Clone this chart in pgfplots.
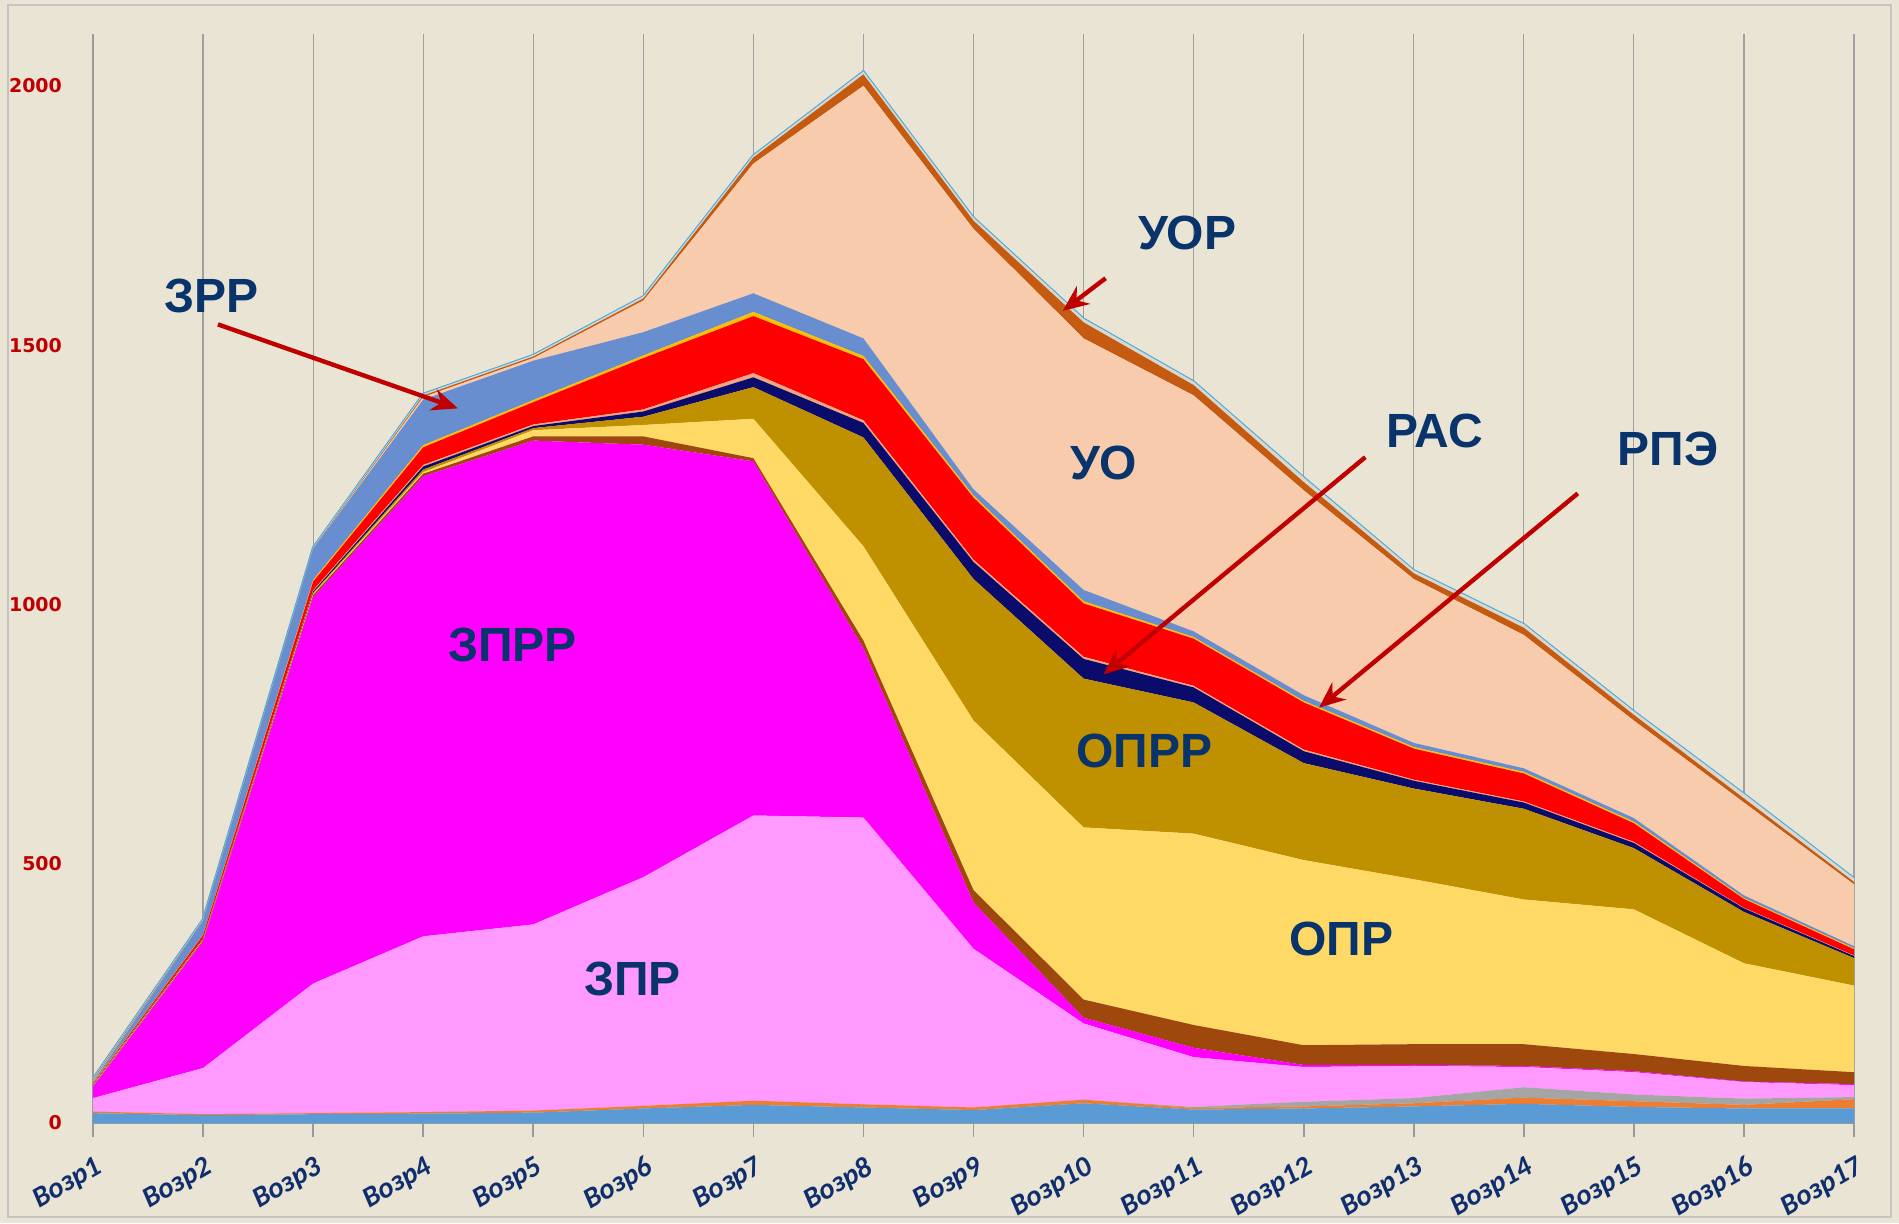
\documentclass[border=0pt]{standalone}
\usepackage{pgfplots}
\pgfplotsset{compat=1.18}
\usepackage{pgfplotstable}
\usepackage{fontspec}
\setmainfont{Liberation Sans}
\newfontfamily\yfont{DejaVu Sans}
\newfontfamily\xfont{Carlito}
\usetikzlibrary{arrows.meta}

\definecolor{bgc}{HTML}{E9E4D4}
\definecolor{framegray}{HTML}{C4C4C4}
\definecolor{axgray}{HTML}{9A9A9A}
\definecolor{gridgray}{HTML}{A0A0A0}
\definecolor{ytickred}{HTML}{C00000}
\definecolor{xlabblue}{HTML}{102E6E}
\definecolor{lblue}{HTML}{08336B}
\definecolor{arrred}{HTML}{C00000}
\definecolor{cA}{HTML}{5B9BD5}
\definecolor{cB}{HTML}{ED7D31}
\definecolor{cC}{HTML}{A5A5A5}
\definecolor{cD}{HTML}{FF99FF}
\definecolor{cE}{HTML}{FF00FF}
\definecolor{cF}{HTML}{9E480E}
\definecolor{cG}{HTML}{FFD966}
\definecolor{cH}{HTML}{BF9000}
\definecolor{cI}{HTML}{0B0B6B}
\definecolor{cJ}{HTML}{F4A582}
\definecolor{cK}{HTML}{FF0000}
\definecolor{cL}{HTML}{FFC000}
\definecolor{cM}{HTML}{698ED0}
\definecolor{cN}{HTML}{F8CBAD}
\definecolor{cO}{HTML}{C55A11}
\definecolor{cP}{HTML}{DAD7CF}
\definecolor{cyanl}{HTML}{44AADD}

\tikzset{
  lbl/.style={font=\bfseries\fontsize{24}{24}\selectfont, text=lblue},
  arr/.style={draw=arrred, line width=2.2pt, -{Stealth[length=13pt,width=11pt]}},
}

\pgfplotstableread{
x  L1 L2 L3 L4  L5  L6 L7  L8  L9 L10 L11 L12 L13 L14 L15 L16 Z
1  19 3  0  26  22  1  1   1   1  1   1   1   3   2   2   2   0
2  15 2  0  89  244 2  1   1   1  1   6   1   27  0   1   2   0
3  17 2  0  250 745 4  2   2   3  2   17  3   60  0   1   2   0
4  18 3  0  339 887 5  3   5   6  3   34  4   88  5   3   3   0
5  20 4  0  359 933 8  12  4   4  3   43  4   76  5   3   3   0
6  28 5  0  441 834 16 22  16  10 4   99  5   45  61  4   4   0
7  35 8  0  550 683 6  76  61  19 8   110 8   36  250 12  4   0
8  30 6  0  553 326 15 182 210 28 5   118 6   34  487 22  6   0
9  25 5  0  306 89  24 327 273 33 4   120 4   12  502 16  6   0
10 38 7  0  147 11  35 332 287 38 4   103 4   22  485 31  7   0
11 26 3  2  96  18  44 369 253 29 3   91  3   11  455 20  7   0
12 28 4  9  67  4   38 357 187 23 3   91  3   11  395 16  9   0
13 32 6  10 62  2   40 318 175 15 2   60  3   8   316 11  6   0
14 37 12 20 39  2   42 279 175 12 2   54  3   7   257 14  7   0
15 31 11 13 43  2   33 279 118 10 2   36  3   7   188 11  7   0
16 28 7  12 32  1   30 198 99  7  1   17  2   5   179 8   9   0
17 28 18 4  23  2   23 167 53  4  1   12  2   4   119 5   7   0
}\data

\begin{document}
\begin{tikzpicture}
\fill[bgc] (-46.5pt,-50pt) rectangle (903pt,561.5pt);
\draw[framegray, line width=1pt] (-42.5pt,-47pt) rectangle (899pt,559pt);
\begin{axis}[
  at={(0pt,0pt)}, anchor=south west,
  scale only axis, width=880.5pt, height=544.5pt,
  xmin=1, xmax=17, ymin=0, ymax=2100,
  axis x line*=bottom, axis y line*=left,
  axis line style={draw=axgray, line width=0.8pt},
  xtick={1,...,17},
  xticklabels={Возр1,Возр2,Возр3,Возр4,Возр5,Возр6,Возр7,Возр8,Возр9,Возр10,Возр11,Возр12,Возр13,Возр14,Возр15,Возр16,Возр17},
  ytick={0,500,1000,1500,2000},
  xmajorgrids,
  x grid style={gridgray, line width=0.6pt},
  tick align=outside, major tick length=7pt,
  xtick style={draw=axgray, line width=0.8pt},
  ytick style={draw=none},
  /pgf/number format/assume math mode=true,
  /pgf/number format/1000 sep={},
  yticklabel style={font=\yfont\bfseries\fontsize{9.5}{10}\selectfont, text=ytickred, xshift=-5pt},
  xticklabel style={font=\xfont\bfseries\itshape\fontsize{14.5}{14.5}\selectfont, text=xlabblue, rotate=30, anchor=north east, inner sep=0pt, yshift=-8pt, xshift=-4pt},
  stack plots=y,
]
\addplot[fill=cA, draw=none] table[x=x,y=L1]{\data} \closedcycle;
\addplot[fill=cB, draw=none] table[x=x,y=L2]{\data} \closedcycle;
\addplot[fill=cC, draw=none] table[x=x,y=L3]{\data} \closedcycle;
\addplot[fill=cD, draw=none] table[x=x,y=L4]{\data} \closedcycle;
\addplot[fill=cE, draw=none] table[x=x,y=L5]{\data} \closedcycle;
\addplot[fill=cF, draw=none] table[x=x,y=L6]{\data} \closedcycle;
\addplot[fill=cG, draw=none] table[x=x,y=L7]{\data} \closedcycle;
\addplot[fill=cH, draw=none] table[x=x,y=L8]{\data} \closedcycle;
\addplot[fill=cI, draw=none] table[x=x,y=L9]{\data} \closedcycle;
\addplot[fill=cJ, draw=none] table[x=x,y=L10]{\data} \closedcycle;
\addplot[fill=cK, draw=none] table[x=x,y=L11]{\data} \closedcycle;
\addplot[fill=cL, draw=none] table[x=x,y=L12]{\data} \closedcycle;
\addplot[fill=cM, draw=none] table[x=x,y=L13]{\data} \closedcycle;
\addplot[fill=cN, draw=none] table[x=x,y=L14]{\data} \closedcycle;
\addplot[fill=cO, draw=none] table[x=x,y=L15]{\data} \closedcycle;
\addplot[fill=cP, draw=none] table[x=x,y=L16]{\data} \closedcycle;
\addplot[draw=cyanl, line width=1.1pt, mark=none] table[x=x,y=Z]{\data};

\coordinate (tZRR) at (axis cs:2.08,1595);
\coordinate (tUOR) at (axis cs:10.94,1716);
\coordinate (tUO) at (axis cs:10.18,1272);
\coordinate (tRAS) at (axis cs:13.19,1334);
\coordinate (tRPE) at (axis cs:15.31,1299);
\coordinate (tZPRR) at (axis cs:4.81,921);
\coordinate (tOPRR) at (axis cs:10.55,718);
\coordinate (tOPR) at (axis cs:12.34,355);
\coordinate (tZPR) at (axis cs:5.90,278);
\coordinate (a1s) at (axis cs:2.135,1540);
\coordinate (a1e) at (axis cs:4.315,1378);
\coordinate (a2s) at (axis cs:10.20,1629);
\coordinate (a2e) at (axis cs:9.81,1566);
\coordinate (a3s) at (axis cs:12.56,1284);
\coordinate (a3e) at (axis cs:10.18,865);
\coordinate (a4s) at (axis cs:14.49,1214);
\coordinate (a4e) at (axis cs:12.14,801);
\end{axis}
\node[lbl] at (tZRR) {ЗРР};
\node[lbl] at (tUOR) {УОР};
\node[lbl] at (tUO) {УО};
\node[lbl] at (tRAS) {РАС};
\node[lbl] at (tRPE) {РПЭ};
\node[lbl] at (tZPRR) {ЗПРР};
\node[lbl] at (tOPRR) {ОПРР};
\node[lbl] at (tOPR) {ОПР};
\node[lbl] at (tZPR) {ЗПР};
\draw[arr] (a1s) -- (a1e);
\draw[arr] (a2s) -- (a2e);
\draw[arr] (a3s) -- (a3e);
\draw[arr] (a4s) -- (a4e);
\pgfresetboundingbox
\useasboundingbox (-46.5pt,-50pt) rectangle (903pt,561.5pt);
\end{tikzpicture}
\end{document}
